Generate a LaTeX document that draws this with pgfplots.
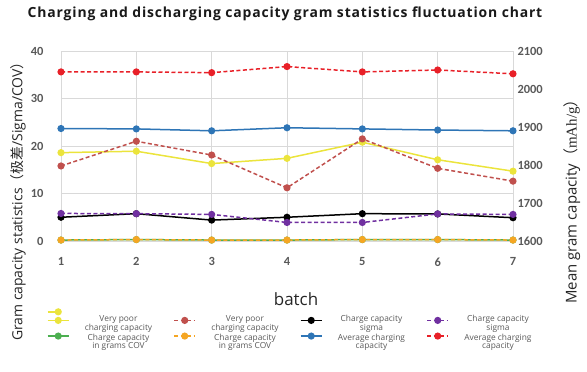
\documentclass[border=0pt]{standalone}
\usepackage{fontspec}
\setmainfont{Open Sans}
\newfontfamily\cjk{Noto Sans CJK SC}
\newfontfamily\tickfont{Carlito}
\newfontfamily\serifp{Liberation Serif}
\newfontfamily\titlef[LetterSpace=6]{Open Sans}
\usepackage{pgfplots}
\pgfplotsset{compat=1.18}
\definecolor{cyellow}{RGB}{235,228,60}
\definecolor{cbrown}{RGB}{192,80,77}
\definecolor{cpurple}{RGB}{112,48,160}
\definecolor{cgreen}{RGB}{76,175,80}
\definecolor{corange}{RGB}{245,166,35}
\definecolor{cblue}{RGB}{46,117,182}
\definecolor{cred}{RGB}{232,32,40}
\definecolor{cgrid}{RGB}{217,217,217}
\definecolor{ctick}{RGB}{89,89,89}
\pgfplotsset{
  ser/.style={line width=1.5bp, mark=*, mark size=2.8bp, mark options={solid}},
  dsh/.style={dash pattern=on 4bp off 2.5bp},
  imgC/.style={legend image code/.code={\path (0bp,0bp) (21bp,0bp);
     \draw[overlay, mark repeat=2, mark phase=2] plot coordinates {(0bp,8bp) (10.5bp,8bp) (21bp,8bp)};}},
  imgD/.style={legend image code/.code={\path (0bp,0bp) (21bp,0bp);
     \draw[overlay, mark repeat=2, mark phase=2] plot coordinates {(0bp,1.5bp) (10.5bp,1.5bp) (21bp,1.5bp)};}},
}
\newcommand{\legtext}[2][2.5bp]{\makebox[98bp]{\rule[-#1]{0pt}{8.5bp}#2}}
\begin{document}
\begin{tikzpicture}
\begin{axis}[
  at={(0,0)}, anchor=south west,
  scale only axis, width=452bp, height=190bp,
  xmin=1, xmax=7, ymin=0, ymax=40,
  xtick={1,2,3,4,5,6,7}, ytick={0,10,20,30,40},
  grid=major, major grid style={cgrid, line width=0.8bp},
  axis line style={draw=none}, tick style={draw=none},
  /pgf/number format/assume math mode=true,
  ticklabel style={font=\tickfont\bfseries\fontsize{12.5}{14}\selectfont, text=ctick},
  yticklabel style={anchor=east, xshift=-14bp},
  xticklabel style={yshift=-13bp},
  title={Charging and discharging capacity gram statistics fluctuation chart},
  title style={at={(axis description cs:0.4956,1.163)}, anchor=center, font=\titlef\bfseries\fontsize{14}{16}\selectfont, text=black!90},
  xlabel={batch},
  xlabel style={at={(axis description cs:0.52,-0.305)}, anchor=center, font=\fontsize{17}{20}\selectfont, text=black!85},
  ylabel={Gram capacity statistics{\cjk （极差}/Sigma/COV{\cjk ）}},
  ylabel style={at={(axis description cs:-0.0951,0.2263)}, anchor=center, font=\fontsize{14}{16}\selectfont, text=black!85},
  legend columns=4,
  legend cell align=left,
  legend style={at={(axis description cs:-0.031,-0.358)}, anchor=north west, draw=none, fill=none,
    inner sep=0pt, outer sep=0pt, row sep=1bp, column sep=0pt,
    font=\fontsize{8.4}{10}\selectfont, text=ctick,
    nodes={inner sep=0pt, outer sep=0pt},
    /tikz/every even column/.append style={column sep=6bp}},
]
% row A: stray stub
\addlegendimage{cyellow, ser, legend image code/.code={\draw[mark repeat=2,mark phase=2] plot coordinates {(0bp,0bp) (10.5bp,0bp)};}}
\addlegendentry{}
\addlegendimage{empty legend}\addlegendentry{}
\addlegendimage{empty legend}\addlegendentry{}
\addlegendimage{empty legend}\addlegendentry{}
% row B: first lines
\addlegendimage{empty legend}\addlegendentry{\legtext{Very poor}}
\addlegendimage{empty legend}\addlegendentry{\legtext{Very poor}}
\addlegendimage{empty legend}\addlegendentry{\legtext{Charge capacity}}
\addlegendimage{empty legend}\addlegendentry{\legtext{Charge capacity}}
% row C: images + second lines
\addlegendimage{cyellow, ser, imgC}\addlegendentry{\legtext[5bp]{charging capacity}}
\addlegendimage{cbrown, ser, dsh, imgC}\addlegendentry{\legtext[5bp]{charging capacity}}
\addlegendimage{black, ser, imgC}\addlegendentry{\legtext[5bp]{sigma}}
\addlegendimage{cpurple, ser, dsh, imgC}\addlegendentry{\legtext[5bp]{sigma}}
% row D: images + first lines
\addlegendimage{cgreen, ser, imgD}\addlegendentry{\legtext[1.5bp]{Charge capacity}}
\addlegendimage{corange, ser, dsh, imgD}\addlegendentry{\legtext[1.5bp]{Charge capacity}}
\addlegendimage{cblue, ser, imgD}\addlegendentry{\legtext[1.5bp]{Average charging}}
\addlegendimage{cred, ser, dsh, imgD}\addlegendentry{\legtext[1.5bp]{Average charging}}
% row E: second lines
\addlegendimage{empty legend}\addlegendentry{\legtext{in grams COV}}
\addlegendimage{empty legend}\addlegendentry{\legtext{in grams COV}}
\addlegendimage{empty legend}\addlegendentry{\legtext{capacity}}
\addlegendimage{empty legend}\addlegendentry{\legtext{capacity}}
% data (left axis)
\addplot[cyellow, ser, forget plot] coordinates {(1,18.6) (2,18.9) (3,16.3) (4,17.4) (5,20.8) (6,17.1) (7,14.7)};
\addplot[cbrown, ser, dsh, forget plot] coordinates {(1,15.8) (2,21.0) (3,18.1) (4,11.2) (5,21.5) (6,15.3) (7,12.6)};
\addplot[black, ser, forget plot] coordinates {(1,5.0) (2,5.75) (3,4.4) (4,5.0) (5,5.75) (6,5.7) (7,4.9)};
\addplot[cpurple, ser, dsh, forget plot] coordinates {(1,5.8) (2,5.75) (3,5.6) (4,3.9) (5,3.9) (6,5.7) (7,5.6)};
\addplot[cgreen, ser, forget plot] coordinates {(1,0.2) (2,0.3) (3,0.2) (4,0.2) (5,0.3) (6,0.3) (7,0.2)};
\addplot[corange, ser, dsh, forget plot] coordinates {(1,0.2) (2,0.3) (3,0.2) (4,0.2) (5,0.3) (6,0.3) (7,0.2)};
\end{axis}
\begin{axis}[
  at={(0,0)}, anchor=south west,
  scale only axis, width=452bp, height=190bp,
  xmin=1, xmax=7, ymin=1600, ymax=2100,
  ytick={1600,1700,1800,1900,2000,2100},
  hide x axis, axis y line*=right,
  axis line style={draw=none}, tick style={draw=none},
  /pgf/number format/assume math mode=true,
  /pgf/number format/1000 sep={},
  yticklabel style={font=\tickfont\bfseries\fontsize{12.5}{14}\selectfont, text=ctick, anchor=west, xshift=1bp},
  ylabel={Mean gram capacity{\cjk （}{\serifp mAh/g}{\cjk ）}},
  ylabel style={at={(axis description cs:1.1305,0.2263)}, anchor=center, font=\fontsize{15}{17}\selectfont, text=black!85},
]
\addplot[cblue, ser] coordinates {(1,1896) (2,1895) (3,1890) (4,1898) (5,1895) (6,1892) (7,1890)};
\addplot[cred, ser, dsh] coordinates {(1,2045) (2,2045) (3,2043) (4,2059) (5,2045) (6,2050) (7,2040)};
\end{axis}
\pgfresetboundingbox
\path[use as bounding box] (-61bp,-131bp) rectangle (526bp,241bp);
\end{tikzpicture}
\end{document}
